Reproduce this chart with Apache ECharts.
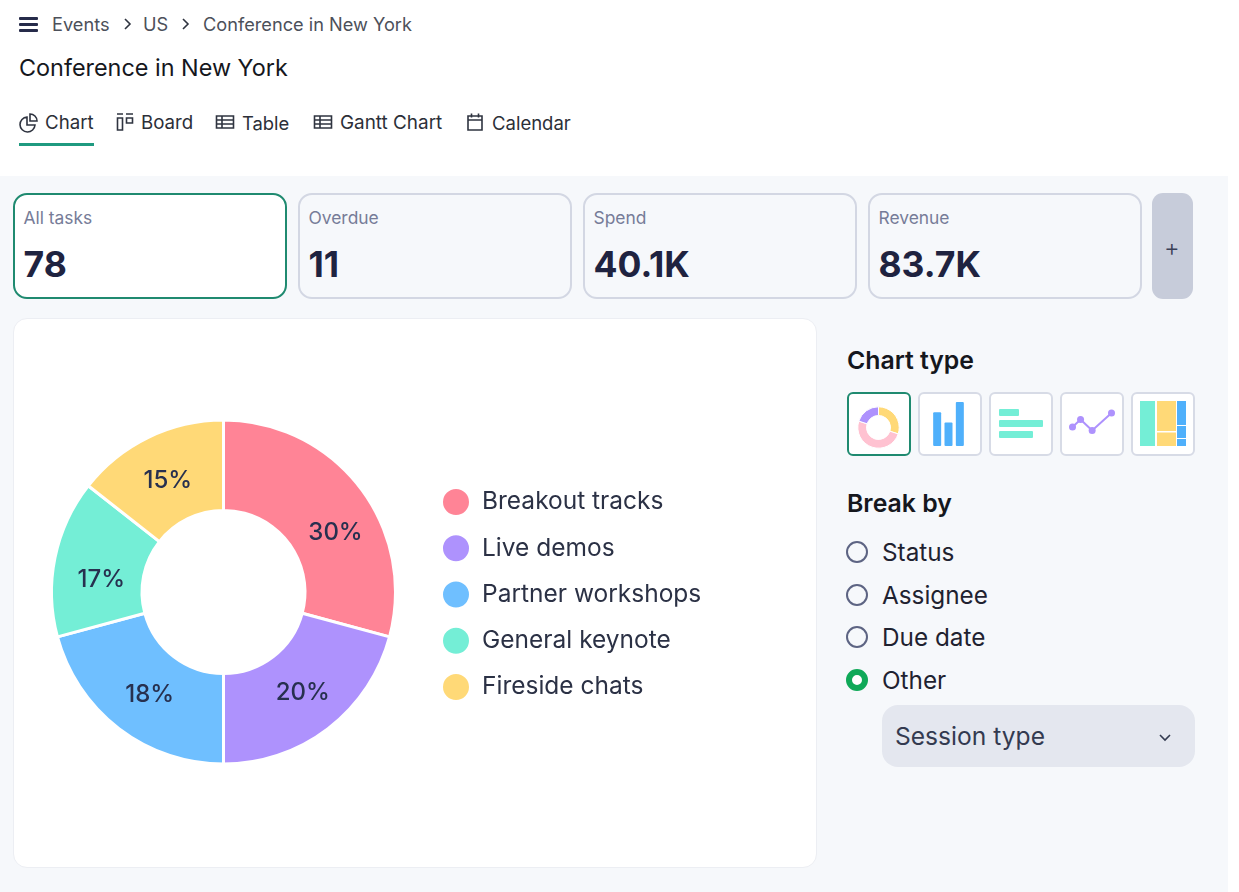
<!DOCTYPE html>
<html lang="en">
<head>
<meta charset="utf-8">
<title>Conference in New York</title>
<script src="https://cdn.jsdelivr.net/npm/echarts@6/dist/echarts.min.js"></script>
<style>
  html, body { margin: 0; height: 100%; background: #fff; overflow: hidden; }
  body { position: relative; width: 1239px; height: 892px; font-family: Inter, "Noto Sans", sans-serif; color: #1a1d2b; }
  .abs { position: absolute; }
  .txt { position: absolute; white-space: nowrap; line-height: 1; }
  #panel { left: 0; top: 176px; width: 1228px; height: 716px; background: #f6f8fb; }
  .kpi { position: absolute; top: 193px; width: 270px; height: 102px; border: 2px solid #d3d7e3; border-radius: 14px; background: #f6f8fb; }
  .kpi.on { border-color: #1f8a70; background: #fff; }
  .thumb { position: absolute; top: 392px; width: 60px; height: 60px; border: 2px solid #d7dbe6; border-radius: 6px; background: #fff; }
  .thumb.on { border: 2px solid #1f8a70; }
  .radio { position: absolute; left: 846px; width: 18px; height: 18px; border: 2px solid #5d6483; border-radius: 50%; }
  .radio.on { width: 10px; height: 10px; border: 6px solid #0fa958; background: #fff; }
  svg { position: absolute; fill: none; stroke: #2f3440; stroke-width: 1.6; }
</style>
</head>
<body>
<div class="abs" id="panel"></div>

<!-- header -->
<div class="abs" style="left:19px;top:17px;width:19px;height:3px;background:#262b4a;border-radius:1px"></div>
<div class="abs" style="left:19px;top:23px;width:19px;height:3px;background:#262b4a;border-radius:1px"></div>
<div class="abs" style="left:19px;top:29px;width:19px;height:3px;background:#262b4a;border-radius:1px"></div>
<div class="txt" style="left:52px;top:15px;font-size:18.2px;color:#4c505a">Events</div>
<svg style="left:123px;top:17px" width="10" height="14"><path d="M2 2l5 5-5 5"/></svg>
<div class="txt" style="left:143px;top:15px;font-size:18.2px;color:#4c505a">US</div>
<svg style="left:181px;top:17px" width="10" height="14"><path d="M2 2l5 5-5 5"/></svg>
<div class="txt" style="left:203px;top:15px;font-size:18.2px;color:#4c505a">Conference in New York</div>
<div class="txt" style="left:19px;top:56px;font-size:23.4px;color:#15171d">Conference in New York</div>

<!-- tabs -->
<svg style="left:19px;top:112px" width="20" height="22"><path d="M8 5a7.5 7.5 0 1 0 8 8H8z M11 2a7 7 0 0 1 7 7h-7z"/></svg>
<div class="txt" style="left:45px;top:114px;font-size:18.7px;color:#2c2f38">Chart</div>
<div class="abs" style="left:19px;top:143px;width:75px;height:3px;background:#1f9a80"></div>
<svg style="left:115px;top:112px" width="20" height="20"><path d="M2 2h6 M11 2h7 M2.5 6h5v12h-5z M11.5 6h6v5h-6z"/></svg>
<div class="txt" style="left:141px;top:114px;font-size:18.7px;color:#2c2f38">Board</div>
<svg style="left:215px;top:113px" width="20" height="18"><path d="M1.5 3h17v12h-17z M1.5 7h17 M1.5 11h17 M7 3v12"/></svg>
<div class="txt" style="left:242px;top:114px;font-size:18.4px;color:#2c2f38">Table</div>
<svg style="left:313px;top:113px" width="20" height="18"><path d="M1.5 3h17v12h-17z M1.5 7h17 M1.5 11h17 M7 3v12"/></svg>
<div class="txt" style="left:340px;top:114px;font-size:18.9px;color:#2c2f38">Gantt Chart</div>
<svg style="left:466px;top:112px" width="18" height="20"><path d="M2 4h14v14h-14z M2 8h14 M5.5 1.5v4 M12.5 1.5v4"/></svg>
<div class="txt" style="left:492px;top:114px;font-size:18.5px;color:#2c2f38">Calendar</div>

<!-- kpi row is filled from the arrays below -->
<div id="kpis"></div>
<div class="abs" style="left:1152px;top:193px;width:41px;height:106px;background:#c7ccda;border-radius:11px"></div>
<div class="txt" style="left:1164px;top:236px;font-size:24px;font-weight:300;color:#3a4058">+</div>

<!-- chart card -->
<div class="abs" style="left:13px;top:318px;width:802px;height:548px;background:#fff;border:1px solid #eceef3;border-radius:14px"></div>
<div class="abs" id="donut" style="left:14px;top:319px;width:802px;height:548px"></div>

<!-- right side -->
<div class="txt" style="left:847px;top:348px;font-size:24.8px;font-weight:600;color:#15171d">Chart type</div>
<div class="thumb on" id="t1" style="left:847px"></div>
<div class="thumb" id="t2" style="left:918px"></div>
<div class="thumb" id="t3" style="left:989px"></div>
<div class="thumb" id="t4" style="left:1060px"></div>
<div class="thumb" id="t5" style="left:1131px"></div>
<div class="txt" style="left:847px;top:491px;font-size:24.8px;font-weight:600;color:#15171d">Break by</div>
<div id="radios"></div>
<div class="abs" style="left:882px;top:705px;width:313px;height:62px;background:#e4e7ef;border-radius:16px"></div>
<div class="txt" style="left:895px;top:724px;font-size:24.6px;color:#333a50">Session type</div>
<svg style="left:1158px;top:733px;stroke:#333a50" width="14" height="10"><path d="M2 2l5 5 5-5"/></svg>

<script>
    var sessionTypes = ["Breakout tracks", "Live demos", "Partner workshops", "General keynote", "Fireside chats"];
    var sessionShares = [29.2, 20.8, 20.8, 14.8, 14.4];
    var sessionLabels = ["30%", "20%", "18%", "17%", "15%"];
    var sessionColors = ["#ff8496", "#ae92fd", "#6fbfff", "#74eed6", "#ffd977"];

    var kpiNames = ["All tasks", "Overdue", "Spend", "Revenue"];
    var kpiValues = ["78", "11", "40.1K", "83.7K"];
    var kpiLefts = [13, 298, 583, 868];

    var breakNames = ["Status", "Assignee", "Due date", "Other"];
    var breakTops = [552, 595, 637, 680];

    // chart type thumbnails
    var iconDonut = [30, 50, 20];
    var iconDonutColors = ["#ffd977", "#ffc2d1", "#ae92fd"];
    var iconBars = [33, 23, 43];
    var iconRows = [20, 44, 34];
    var iconLineX = [0, 8, 19.5, 38.7];
    var iconLineY = [4, 11.5, 0.5, 18];
    var iconBlockX0 = [0, 17, 17, 37, 37, 37];
    var iconBlockX1 = [15, 36, 36, 46, 46, 46];
    var iconBlockY0 = [0, 0, 31.5, 0, 25, 38];
    var iconBlockY1 = [45, 30, 45, 24, 37, 45];
    var iconBlockColors = ["#74eed6", "#ffd977", "#ffd977", "#4fb0fb", "#4fb0fb", "#4fb0fb"];

    // the percent labels don't sit exactly on the arc middles in the picture
    var labelNudge = [[9, 20], [0.5, -2], [5, 0], [5, 13.7], [1, 5]];

    kpiNames.forEach(function (name, i) {
        var html = '<div class="kpi' + (i == 0 ? ' on' : '') + '" style="left:' + kpiLefts[i] + 'px"></div>'
            + '<div class="txt" style="left:' + (kpiLefts[i] + 10.5) + 'px;top:209px;font-size:17.4px;color:#767c98">' + name + '</div>'
            + '<div class="txt" style="left:' + (kpiLefts[i] + 10.5) + 'px;top:247px;font-size:35.5px;font-weight:700;color:#1f2340">' + kpiValues[i] + '</div>';
        document.getElementById("kpis").insertAdjacentHTML("beforeend", html);
    });

    breakNames.forEach(function (name, i) {
        var on = i == breakNames.length - 1;
        var html = '<div class="radio' + (on ? ' on' : '') + '" style="top:' + (breakTops[i] - 11) + 'px"></div>'
            + '<div class="txt" style="left:882px;top:' + (breakTops[i] - 12) + 'px;font-size:24.3px;color:#1f2230">' + name + '</div>';
        document.getElementById("radios").insertAdjacentHTML("beforeend", html);
    });

    var donut = echarts.init(document.getElementById("donut"));
    donut.setOption({
        animation: false,
        legend: {
            orient: "vertical",
            left: 427,
            top: 168,
            padding: 0,
            icon: "circle",
            itemWidth: 28,
            itemHeight: 28,
            itemGap: 16.25,
            textStyle: { fontFamily: "Inter", fontSize: 24.5, color: "#2b3145", padding: [0, 0, 0, 7] }
        },
        series: [{
            type: "pie",
            center: [209.5, 273],
            radius: [81.5, 172],
            startAngle: 90,
            clockwise: true,
            silent: true,
            itemStyle: { borderColor: "#fff", borderWidth: 3 },
            label: {
                position: "inside",
                fontFamily: "Inter",
                fontSize: 24,
                fontWeight: 500,
                color: "#27304f",
                formatter: function (p) { return sessionLabels[p.dataIndex]; }
            },
            labelLine: { show: false },
            data: sessionTypes.map(function (name, i) {
                return {
                    name: name,
                    value: sessionShares[i],
                    itemStyle: { color: sessionColors[i] },
                    label: { offset: labelNudge[i] }
                };
            })
        }]
    });

    function thumb(id, option) {
        option.animation = false;
        echarts.init(document.getElementById(id)).setOption(option);
    }

    thumb("t1", {
        series: [{
            type: "pie", silent: true, center: [29.5, 33.5], radius: [12, 20.7], startAngle: 90,
            label: { show: false },
            itemStyle: { borderColor: "#fff", borderWidth: 1 },
            data: iconDonut.map(function (v, i) { return { value: v, itemStyle: { color: iconDonutColors[i] } }; })
        }]
    });
    thumb("t2", {
        grid: { left: 11.5, right: 14.5, top: 8, bottom: 8 },
        xAxis: { type: "category", show: false, data: ["a", "b", "c"] },
        yAxis: { type: "value", show: false, min: 0, max: 43 },
        series: [{ type: "bar", silent: true, data: iconBars, barWidth: 8, itemStyle: { color: "#4fb0fb", borderRadius: 1 } }]
    });
    thumb("t3", {
        grid: { left: 8, right: 8, top: 13, bottom: 14 },
        xAxis: { type: "value", show: false, min: 0, max: 44 },
        yAxis: { type: "category", show: false, inverse: true, data: ["a", "b", "c"] },
        series: [{ type: "bar", silent: true, data: iconRows, barWidth: 7, itemStyle: { color: "#74eed6", borderRadius: 1 } }]
    });
    thumb("t4", {
        grid: { left: 10.5, right: 10.5, top: 19, bottom: 23 },
        xAxis: { type: "value", show: false, min: 0, max: 38.7 },
        yAxis: { type: "value", show: false, min: 0, max: 18 },
        series: [{
            type: "line", silent: true, symbol: "circle", symbolSize: 7,
            lineStyle: { color: "#ae92fd", width: 2 }, itemStyle: { color: "#ae92fd" },
            data: iconLineX.map(function (x, i) { return [x, iconLineY[i]]; })
        }]
    });
    thumb("t5", {
        grid: { left: 7, right: 7, top: 7, bottom: 8 },
        xAxis: { type: "value", show: false, min: 0, max: 46 },
        yAxis: { type: "value", show: false, inverse: true, min: 0, max: 45 },
        series: [{
            type: "custom", silent: true,
            renderItem: function (params, api) {
                var a = api.coord([api.value(0), api.value(2)]);
                var b = api.coord([api.value(1), api.value(3)]);
                return {
                    type: "rect",
                    shape: { x: a[0], y: a[1], width: b[0] - a[0], height: b[1] - a[1] },
                    style: { fill: iconBlockColors[params.dataIndex] }
                };
            },
            data: iconBlockX0.map(function (x, i) { return [x, iconBlockX1[i], iconBlockY0[i], iconBlockY1[i]]; })
        }]
    });
</script>
</body>
</html>
